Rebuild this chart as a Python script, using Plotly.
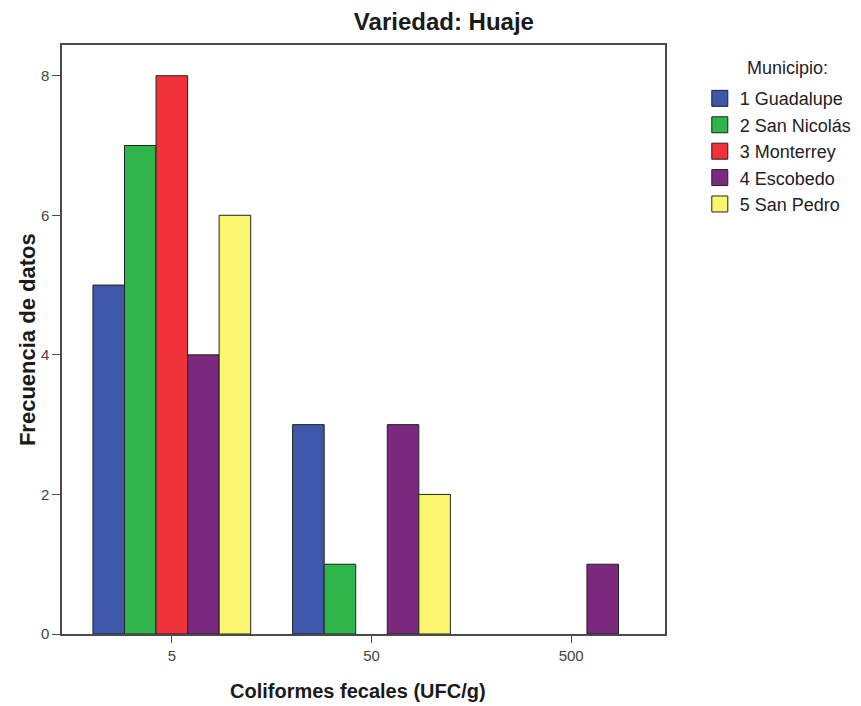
import plotly.graph_objects as go

categories = ["5", "50", "500"]
municipios = ["1 Guadalupe", "2 San Nicolás", "3 Monterrey", "4 Escobedo", "5 San Pedro"]
guadalupe = [5, 3, 0]
san_nicolas = [7, 1, 0]
monterrey = [8, 0, 0]
escobedo = [4, 3, 1]
san_pedro = [6, 2, 0]
series = [guadalupe, san_nicolas, monterrey, escobedo, san_pedro]
colors = ["#3D57AA", "#2EB64A", "#F03339", "#7A297E", "#FAF76F"]

fig = go.Figure()
for name, vals, col in zip(municipios, series, colors):
    fig.add_trace(go.Bar(
        x=categories, y=[v if v > 0 else None for v in vals], name=name,
        marker=dict(color=col, line=dict(color="#222222", width=1)),
        showlegend=False,
    ))
for i, (name, col) in enumerate(zip(municipios, colors)):
    fig.add_trace(go.Scatter(
        x=[None], y=[None], mode="markers", name=name, legendgroup=f"g{i}",
        marker=dict(symbol="square", size=16, color=col, line=dict(color="#222222", width=1)),
        showlegend=True,
    ))

TITLE_COL = "#1a1a1a"
fig.update_layout(
    width=853, height=698,
    margin=dict(l=54, r=196, t=37, b=72),
    paper_bgcolor="white", plot_bgcolor="white",
    barmode="group", bargap=0.21, bargroupgap=0,
    font=dict(family="Liberation Sans, Arial, sans-serif", color="#333333"),
    title=dict(text="<b>Variedad: Huaje</b>", x=0.511, xanchor="center", y=0.98, yanchor="middle",
               font=dict(size=24, color=TITLE_COL)),
    xaxis=dict(
        type="category", range=[-0.55, 2.47],
        showline=True, linecolor="#4a4a4a", linewidth=1.5, mirror=True,
        ticks="outside", ticklen=7, tickcolor="#4a4a4a",
        tickfont=dict(size=15, color="#444444"),
        automargin=False,
    ),
    yaxis=dict(
        range=[0, 8.44], tickvals=[0, 2, 4, 6, 8],
        showline=True, linecolor="#4a4a4a", linewidth=1.5, mirror=True,
        ticks="outside", ticklen=8, tickcolor="#4a4a4a",
        showgrid=False, zeroline=False,
        tickfont=dict(size=15, color="#444444"),
        automargin=False,
    ),
    legend=dict(
        xref="container", yref="container",
        x=0.811, xanchor="left", y=0.8966, yanchor="top",
        font=dict(size=18, color="#222222"),
        traceorder="grouped", tracegroupgap=0,
        itemsizing="trace",
    ),
    annotations=[
        dict(text="Municipio:", xref="paper", yref="paper",
             x=(787 - 62) / 603, y=(634 - 68) / 589, xanchor="center", yanchor="middle",
             showarrow=False, font=dict(size=18, color="#222222")),
        dict(text="<b>Coliformes fecales (UFC/g)</b>", xref="paper", yref="paper",
             x=0.491, y=0, yshift=-57, xanchor="center", yanchor="middle", showarrow=False,
             font=dict(size=20, color=TITLE_COL)),
        dict(text="<b>Frecuencia de datos</b>", xref="paper", yref="paper",
             x=0, xshift=-35, y=0.499, xanchor="center", yanchor="middle", textangle=-90,
             showarrow=False, font=dict(size=22, color=TITLE_COL)),
    ],
)

fig.write_html("out.html")
